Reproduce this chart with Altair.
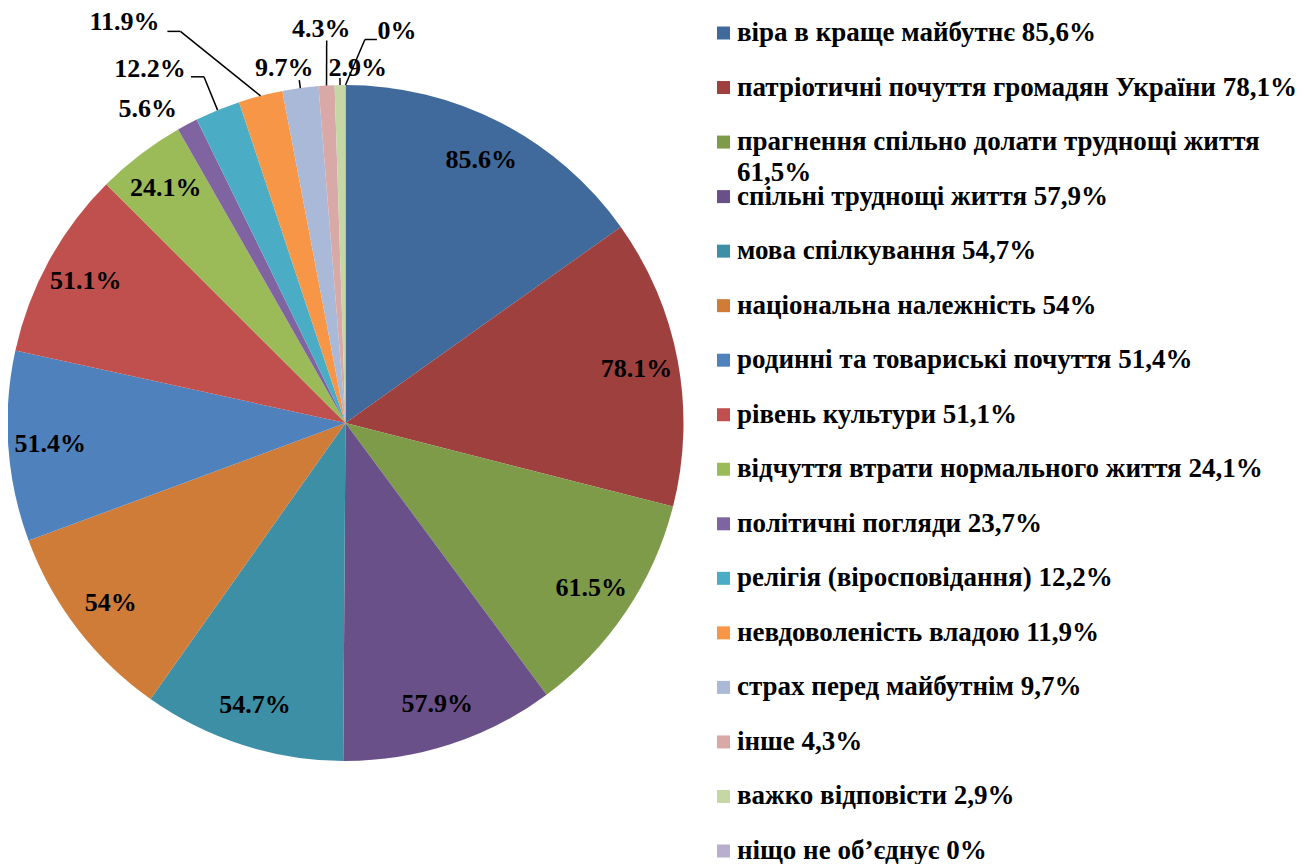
import altair as alt
import pandas as pd

# ---- data -------------------------------------------------------------
categories = [
    "віра в краще майбутнє 85,6%",
    "патріотичні почуття громадян України 78,1%",
    "прагнення спільно долати труднощі життя 61,5%",
    "спільні труднощі життя 57,9%",
    "мова спілкування 54,7%",
    "національна належність 54%",
    "родинні та товариські почуття 51,4%",
    "рівень культури 51,1%",
    "відчуття втрати нормального життя 24,1%",
    "політичні погляди 23,7%",
    "релігія (віросповідання) 12,2%",
    "невдоволеність владою 11,9%",
    "страх перед майбутнім 9,7%",
    "інше 4,3%",
    "важко відповісти 2,9%",
    "ніщо не об’єднує 0%",
]
values = [85.6, 78.1, 61.5, 57.9, 54.7, 54.0, 51.4, 51.1, 24.1,
          5.6, 12.2, 11.9, 9.7, 4.3, 2.9, 0.0]

# ---- style / layout ----------------------------------------------------
colors = ["#406A9C", "#9D403E", "#7E9B4A", "#6A5088", "#3C8FA5", "#CF7C38",
          "#4F81BD", "#C0504D", "#9BBB59", "#8064A2", "#4BACC6", "#F79646",
          "#AAB9D8", "#D9A9A8", "#C6D7A6", "#B9AECD"]
# label placement: angular nudge (deg) from slice middle, radius in px
label_nudge = [0, 0, 0, 0, 0, 0, 0, 0, 0, -4.3, -6.7, -14.3, -2.1, -0.3, 2.9, 7.5]
label_radius = [296] * 9 + [371, 404, 458, 360, 395, 355, 395]
# leader lines: angular nudge of outer end, radius of outer end, elbow length
lead_nudge = [0] * 9 + [0, 0, -8.3, 0, 0.4, 0, 2.9]
lead_radius = [0] * 9 + [0, 374, 425, 346, 383, 345, 384]
lead_elbow = [0] * 9 + [0, -13, -13, 0, 0, 0, 12]

W, H = 675, 830
CX, CY, R = W / 2, H / 2, 338
FONT = "Liberation Serif"
LEG_SYMBOL_X, LEG_TEXT_X = 715.5, 729
LEG_RANGE = [25, 843]

df = pd.DataFrame({
    "cat": categories,
    "value": values,
    "order": list(range(len(values))),
    "nudge": label_nudge,
    "lab_r": label_radius,
    "lnudge": lead_nudge,
    "lead_r": lead_radius,
    "elbow": lead_elbow,
})

base = alt.Chart(df)
color_enc = alt.Color("cat:N", scale=alt.Scale(domain=categories, range=colors),
                      sort=categories, legend=None)

pie = base.mark_arc(radius=R).encode(
    theta=alt.Theta("value:Q", stack=True),
    color=color_enc,
    order=alt.Order("order:Q"),
)

geo = base.transform_joinaggregate(total="sum(value)").transform_window(
    cum="sum(value)", sort=[alt.SortField("order")], frame=[None, 0]
).transform_calculate(
    mid="(datum.cum - datum.value / 2) / datum.total * 2 * PI",
    lt="datum.mid + datum.nudge * PI / 180",
    lx=f"{CX} + datum.lab_r * sin(datum.lt)",
    ly=f"{CY} - datum.lab_r * cos(datum.lt)",
    ex=f"{CX} + {R} * sin(datum.mid)",
    ey=f"{CY} - {R} * cos(datum.mid)",
    pt="datum.mid + datum.lnudge * PI / 180",
    px=f"{CX} + datum.lead_r * sin(datum.pt)",
    py=f"{CY} - datum.lead_r * cos(datum.pt)",
    qx="datum.px + datum.elbow",
    label="format(datum.value, '.1~f') + '%'",
)

def px_enc(f):
    return alt.X(f"{f}:Q", scale=None, axis=None)

def py_enc(f):
    return alt.Y(f"{f}:Q", scale=None, axis=None)

leaders = geo.transform_filter("datum.lead_r > 0").mark_rule(
    color="black", strokeWidth=1.5
).encode(x=px_enc("ex"), y=py_enc("ey"), x2="px:Q", y2="py:Q")

elbows = geo.transform_filter("datum.elbow != 0").mark_rule(
    color="black", strokeWidth=1.5
).encode(x=px_enc("px"), y=py_enc("py"), x2="qx:Q", y2="py:Q")

labels = geo.mark_text(
    font=FONT, fontWeight="bold", fontSize=26, color="black",
    align="center", baseline="middle",
).encode(x=px_enc("lx"), y=py_enc("ly"), text="label:N")

# ---- legend (symbols + wrapped labels on a point scale) ----------------
leg_y = alt.Y("cat:N", sort=categories, axis=None,
              scale=alt.Scale(domain=categories, range=LEG_RANGE, padding=0))

leg_symbols = base.mark_square(size=169, opacity=1).encode(
    x=alt.value(LEG_SYMBOL_X), y=leg_y, color=color_enc,
)

leg_text = base.transform_calculate(
    leg=("length(datum.cat) > 43 ? "
         "slice(datum.cat, 0, lastindexof(datum.cat, ' ')) + '\\n' + "
         "slice(datum.cat, lastindexof(datum.cat, ' ') + 1) : datum.cat")
).mark_text(
    font=FONT, fontWeight="bold", fontSize=27, color="black",
    align="left", baseline="middle", lineBreak="\n", lineHeight=31,
).encode(x=alt.value(LEG_TEXT_X), y=leg_y, text="leg:N")

chart = alt.layer(pie, leaders, elbows, labels, leg_symbols, leg_text).resolve_scale(
    y="independent"
).properties(
    width=W, height=H,
    padding={"left": 0, "top": 0, "right": 615, "bottom": 26},
    autosize=alt.AutoSizeParams(type="none"),
    background="white",
).configure_view(stroke=None)

chart.save("out.html", embed_options={"renderer": "svg", "actions": False})
